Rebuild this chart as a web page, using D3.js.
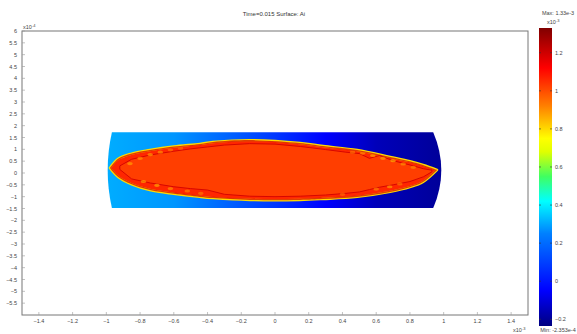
<!DOCTYPE html>
<html><head><meta charset="utf-8">
<script src="https://cdn.jsdelivr.net/npm/d3@7"></script>
<style>html,body{margin:0;padding:0;background:#fff;}svg{display:block;font-family:"Liberation Sans",Arial,sans-serif;}</style>
</head><body><svg id="c" width="577" height="334"></svg>
<script>
// ---- data (x in 1e-3, y in 1e-4, values in 1e-3) ----
const xTicks = [-1.4,-1.2,-1,-0.8,-0.6,-0.4,-0.2,0,0.2,0.4,0.6,0.8,1,1.2,1.4];
const yTicks = [6,5.5,5,4.5,4,3.5,3,2.5,2,1.5,1,0.5,0,-0.5,-1,-1.5,-2,-2.5,-3,-3.5,-4,-4.5,-5,-5.5];
const cbTicks = [1.2,1,0.8,0.6,0.4,0.2,0,-0.2];
const valMin = -0.2353, valMax = 1.33;
const cmapVals   = [-0.2353,-0.05,0.25,0.42,0.55,0.68,0.75,0.92,1.12,1.33];
const cmapColors = ["#000080","#0000ff","#0080ff","#00ffff","#40ff60","#e0ff00","#ffff00","#ff8000","#ff0000","#800000"];
// domain (rectangle with bulging ends)
const domX = [-0.967, 0.938];
const domY = [-1.48, 1.72];
const domBulge = [-0.992, 0.986];
// background field along x
const bgX   = [-1.0,-0.6,-0.3,0.0,0.3,0.6,1.0];
const bgVal = [0.31,0.28,0.19,0.08,-0.05,-0.15,-0.20];
// cigar-shaped inclusion
const cigX   = [-0.979,-0.93,-0.85,-0.742,-0.60,-0.445,-0.368,-0.148,0.148,0.285,0.487,0.683,0.80,0.878,0.961];
const cigTop = [0.21,0.60,0.82,0.97,1.12,1.23,1.31,1.39,1.27,1.14,0.97,0.68,0.50,0.34,0.13];
const cigBot = [0.21,-0.17,-0.48,-0.72,-0.88,-1.01,-1.06,-1.14,-1.14,-1.10,-1.01,-0.80,-0.60,-0.38,0.13];
// inner core boundary (jagged dark line)
const coreX   = [-0.92,-0.85,-0.74,-0.60,-0.50,-0.40,-0.30,-0.15,0.0,0.15,0.30,0.42,0.50,0.56,0.62,0.70,0.80,0.88,0.93];
const coreTop = [0.30,0.58,0.76,0.92,1.02,1.10,1.18,1.24,1.22,1.12,0.99,0.88,0.82,0.62,0.74,0.52,0.34,0.18,0.12];
const coreBot = [0.15,-0.25,-0.42,-0.58,-0.66,-0.72,-0.90,-0.98,-1.00,-0.98,-0.93,-0.86,-0.80,-0.70,-0.60,-0.50,-0.36,-0.16,0.05];
const valRim = 0.80, valBand = 1.06, valLine = 1.2, valCore = 1.02;
// mottled spots (x, y, value)
const spotX = [-0.86,-0.80,-0.74,-0.68,-0.62,-0.56,-0.78,-0.70,-0.62,-0.52,-0.44,0.52,0.58,0.64,0.70,0.76,0.82,0.60,0.68,0.74,0.46,0.40];
const spotY = [0.40,0.62,0.78,0.88,0.98,1.05,-0.36,-0.52,-0.66,-0.76,-0.86,0.84,0.74,0.62,0.52,0.38,0.24,-0.68,-0.58,-0.46,0.88,-0.90];
const spotV = [0.86,0.88,0.86,0.88,0.92,0.94,0.86,0.84,0.88,0.90,0.92,0.88,0.84,0.86,0.84,0.88,0.90,0.90,0.86,0.92,0.92,0.94];

// ---- layout ----
const svg = d3.select("#c");
const x = d3.scaleLinear().domain([-1.5,1.5]).range([22,528]);
const y = d3.scaleLinear().domain([-6,6]).range([315,31]);
const color = d3.scaleLinear().domain(cmapVals).range(cmapColors).clamp(true);
const cb = d3.scaleLinear().domain([valMin,valMax]).range([326,28]);

svg.append("rect").attr("width",577).attr("height",334).attr("fill","#fff");

// title
svg.append("text").attr("x",274).attr("y",16).attr("text-anchor","middle")
  .attr("font-size",6).attr("fill","#333").text("Time=0.015   Surface: Ai");

// defs
const defs = svg.append("defs");
const grad = defs.append("linearGradient").attr("id","bg").attr("gradientUnits","userSpaceOnUse")
  .attr("x1",x(bgX[0])).attr("x2",x(bgX[bgX.length-1])).attr("y1",0).attr("y2",0);
bgX.forEach((v,i)=>grad.append("stop")
  .attr("offset",(x(v)-x(bgX[0]))/(x(bgX[bgX.length-1])-x(bgX[0])))
  .attr("stop-color",color(bgVal[i])));
const cbg = defs.append("linearGradient").attr("id","cbg").attr("gradientUnits","userSpaceOnUse")
  .attr("x1",0).attr("x2",0).attr("y1",cb(valMin)).attr("y2",cb(valMax));
cmapVals.forEach((v,i)=>cbg.append("stop")
  .attr("offset",(v-valMin)/(valMax-valMin)).attr("stop-color",cmapColors[i]));
defs.append("filter").attr("id","soft").append("feGaussianBlur").attr("stdDeviation",0.6);

// domain path
const dp = d3.path();
dp.moveTo(x(domX[0]),y(domY[1]));
dp.lineTo(x(domX[1]),y(domY[1]));
dp.quadraticCurveTo(2*x(domBulge[1])-x(domX[1]), y((domY[0]+domY[1])/2), x(domX[1]),y(domY[0]));
dp.lineTo(x(domX[0]),y(domY[0]));
dp.quadraticCurveTo(2*x(domBulge[0])-x(domX[0]), y((domY[0]+domY[1])/2), x(domX[0]),y(domY[1]));
dp.closePath();
svg.append("path").attr("d",dp.toString()).attr("fill","url(#bg)");
defs.append("clipPath").attr("id","dclip").append("path").attr("d",dp.toString());

// inclusion
const cig = cigX.map((v,i)=>({x:v,t:cigTop[i],b:cigBot[i]}));
const area = d3.area().x(d=>x(d.x)).y0(d=>y(d.b)).y1(d=>y(d.t)).curve(d3.curveCatmullRom);
const g = svg.append("g").attr("clip-path","url(#dclip)");
g.append("path").attr("d",area(cig)).attr("fill",color(valBand))
  .attr("stroke",color(valRim)).attr("stroke-width",2.4).attr("stroke-linejoin","round");
defs.append("clipPath").attr("id","cclip").append("path").attr("d",area(cig));
const gi = g.append("g").attr("clip-path","url(#cclip)");
const core = coreX.map((v,i)=>({x:v,t:coreTop[i],b:coreBot[i]}));
gi.append("path").attr("d",d3.area().x(d=>x(d.x)).y0(d=>y(d.b)).y1(d=>y(d.t)).curve(d3.curveLinear)(core))
  .attr("fill",color(valCore)).attr("stroke",color(valLine)).attr("stroke-width",0.9).attr("opacity",0.95);
const gs = gi.append("g").attr("filter","url(#soft)");
spotX.forEach((v,i)=>gs.append("ellipse").attr("cx",x(v)).attr("cy",y(spotY[i]))
  .attr("rx",2.8).attr("ry",1.6).attr("fill",color(spotV[i])).attr("opacity",0.6));
gi.append("path").attr("d",area(cig)).attr("fill","none")
  .attr("stroke",color(valLine)).attr("stroke-width",2.6).attr("opacity",0.7);

// frame & axes
svg.append("rect").attr("x",22).attr("y",31).attr("width",506).attr("height",284)
  .attr("fill","none").attr("stroke","#777").attr("stroke-width",1);
const ax = svg.append("g").attr("font-size",5.5).attr("fill","#444");
xTicks.forEach(t=>{
  ax.append("line").attr("x1",x(t)).attr("x2",x(t)).attr("y1",315).attr("y2",312).attr("stroke","#999").attr("stroke-width",0.6);
  ax.append("text").attr("x",x(t)).attr("y",323).attr("text-anchor","middle").text(d3.format("")(t));
});
yTicks.forEach(t=>{
  ax.append("line").attr("x1",22).attr("x2",25).attr("y1",y(t)).attr("y2",y(t)).attr("stroke","#999").attr("stroke-width",0.6);
  ax.append("text").attr("x",17).attr("y",y(t)+2).attr("text-anchor","end").text(d3.format("")(t));
});
const e4 = ax.append("text").attr("x",23).attr("y",29);
e4.append("tspan").text("x10");
e4.append("tspan").attr("dy",-2).attr("font-size",4).text("-4");
const e3 = ax.append("text").attr("x",513).attr("y",332);
e3.append("tspan").text("x10");
e3.append("tspan").attr("dy",-2).attr("font-size",4).text("-3");

// colorbar
svg.append("rect").attr("x",539).attr("y",cb(valMax)).attr("width",13).attr("height",cb(valMin)-cb(valMax))
  .attr("fill","url(#cbg)");
const cbl = svg.append("g").attr("font-size",5.5).attr("fill","#444");
cbTicks.forEach(t=>{
  cbl.append("line").attr("x1",539).attr("x2",541).attr("y1",cb(t)).attr("y2",cb(t)).attr("stroke","#333").attr("stroke-width",0.6);
  cbl.append("line").attr("x1",550).attr("x2",552).attr("y1",cb(t)).attr("y2",cb(t)).attr("stroke","#333").attr("stroke-width",0.6);
  cbl.append("text").attr("x",555).attr("y",cb(t)+2).text(d3.format("")(t));
});
cbl.append("text").attr("x",558).attr("y",15).attr("text-anchor","middle").text("Max: 1.33e-3");
const e3b = cbl.append("text").attr("x",547).attr("y",24);
e3b.append("tspan").text("x10");
e3b.append("tspan").attr("dy",-2).attr("font-size",4).text("-3");
cbl.append("text").attr("x",558).attr("y",332).attr("text-anchor","middle").text("Min: -2.353e-4");
</script></body></html>
